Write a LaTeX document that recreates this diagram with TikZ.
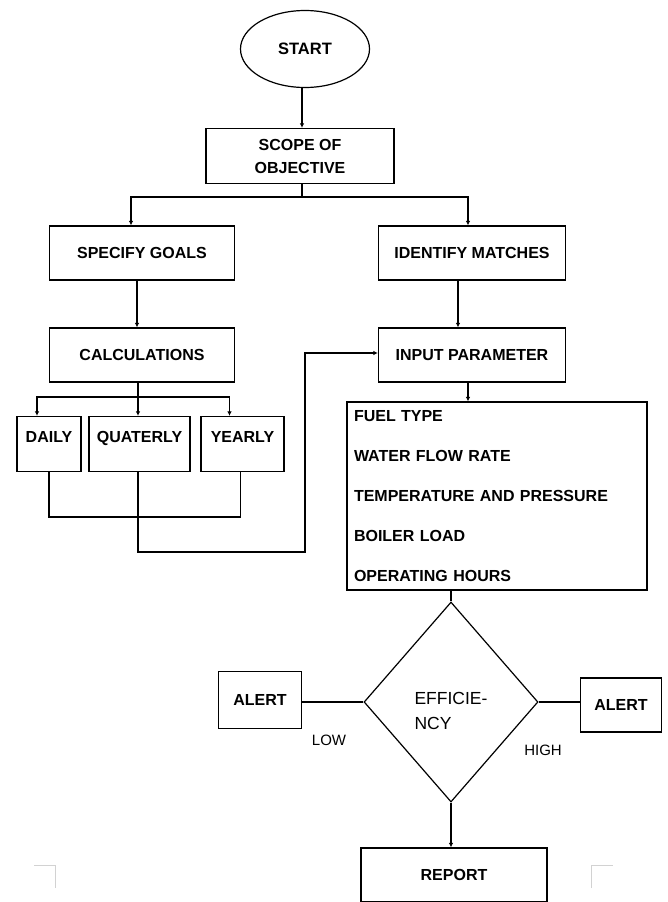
\documentclass[tikz,border=0pt]{standalone}
\usepackage{fontspec}
\setmainfont{Liberation Sans}
\usetikzlibrary{calc,shapes.geometric,arrows.meta}
\tikzset{
% Node styles for the flow chart: boxes, start ellipse and decision diamond
box node/.style={rectangle,draw,line width=1.2pt,align=center,inner sep=2pt,
  font=\bfseries\fontsize{16}{23}\selectfont},
period node/.style={box node,minimum height=55,text height=11.5pt,text depth=14.5pt},
list node/.style={rectangle,draw,line width=1.2pt,align=left,inner sep=7pt,
  text width=286pt,minimum height=188,font=\bfseries\fontsize{16}{40}\selectfont},
start node/.style={ellipse,draw,line width=1.2pt,font=\bfseries\fontsize{16.5}{18}\selectfont},
decision node/.style={diamond,draw,line width=1.2pt,align=left,inner sep=0pt,
  font=\fontsize{17.5}{25}\selectfont},
tag node/.style={font=\fontsize{15}{18}\selectfont},
flow/.style={line width=1.2pt},
flow arrow/.style={flow,-{Latex[length=4.5pt,width=4.5pt]}}
}

\begin{document}
\begin{tikzpicture}[x=1pt,y=-1pt]
  \useasboundingbox[fill=white] (0,0) rectangle (667,902);

  \node[start node, minimum width=129, minimum height=77] (start) at (305,49) {START};
  \node[box node, minimum width=188, minimum height=55] (scope) at (300,156) {SCOPE OF\\OBJECTIVE};
  \node[box node, minimum width=185, minimum height=54] (goals) at (142,253) {SPECIFY GOALS};
  \node[box node, minimum width=187, minimum height=54] (matches) at (472,253) {IDENTIFY MATCHES};
  \node[box node, minimum width=185, minimum height=54] (calc) at (142,355) {CALCULATIONS};
  \node[box node, minimum width=187, minimum height=54] (input) at (472,355) {INPUT PARAMETER};
  \node[period node, minimum width=64] (daily) at (49,444) {DAILY};
  \node[period node, minimum width=101] (quaterly) at (139.5,444) {QUATERLY};
  \node[period node, minimum width=83] (yearly) at (242.5,444) {YEARLY};
  \node[list node] (params) at (497,496)
    {FUEL TYPE\\WATER FLOW RATE\\TEMPERATURE AND PRESSURE\\BOILER LOAD\\OPERATING HOURS};
  \node[decision node, minimum width=174, minimum height=200] (eff) at (451,702)
    {\rule{0pt}{30pt}EFFICIE-\\NCY};
  \node[box node, font=\bfseries\fontsize{16}{18}\selectfont, minimum width=83, minimum height=57] (alertl) at (260,700) {ALERT};
  \node[box node, font=\bfseries\fontsize{16}{18}\selectfont, minimum width=81, minimum height=54] (alertr) at (621,705) {ALERT};
  \node[box node, font=\bfseries\fontsize{16}{18}\selectfont, minimum width=186, minimum height=54] (report) at (454,875) {REPORT};
  \node[tag node] (low) at (329,740) {LOW};
  \node[tag node] (high) at (543,750) {HIGH};

  \coordinate (fork1) at (302,197);
  \coordinate (fork2) at (138,397);
  \coordinate (merge) at (145,517);
  \coordinate (bend) at (305,552);

  \draw[flow arrow] (start.south -| fork1) -- (scope.north -| fork1);
  \draw[flow arrow] (scope.south -| fork1) -- (fork1) -| ([xshift=-11pt]goals.north);
  \draw[flow arrow] (fork1) -| ([xshift=-4pt]matches.north);
  \draw[flow arrow] ([xshift=-5pt]goals.south) -- ([xshift=-5pt]calc.north);
  \draw[flow arrow] (matches.south -| {(458,0)}) -- (input.north -| {(458,0)});
  \draw[flow arrow] (calc.south -| fork2) -- (fork2) -| ([xshift=-12pt]daily.north);
  \draw[flow arrow] (fork2) -- (quaterly.north -| fork2);
  \draw[flow arrow] (fork2) -| ([xshift=-13pt]yearly.north);
  \draw[flow] (daily.south) |- (merge) -| ([xshift=-2pt]yearly.south);
  \draw[flow arrow] (quaterly.south -| fork2) |- (bend) |- ([yshift=2pt]input.west);
  \draw[flow arrow] ([xshift=-4pt]input.south) -- ([xshift=-4pt]input.south |- params.north);
  \draw[flow] (params.south -| eff.north) -- (eff.north);
  \draw[flow] (eff.west) -- (eff.west -| alertl.east);
  \draw[flow] (eff.east) -- (eff.east -| alertr.west);
  \draw[flow arrow] (eff.south) -- (report.north -| eff.south);

  % page corner marks
  \draw[gray!35, line width=1pt] (34,865) -- (55,865) -- (55,888);
  \draw[gray!35, line width=1pt] (591,888) -- (591,865) -- (613,865);
\end{tikzpicture}
\end{document}
